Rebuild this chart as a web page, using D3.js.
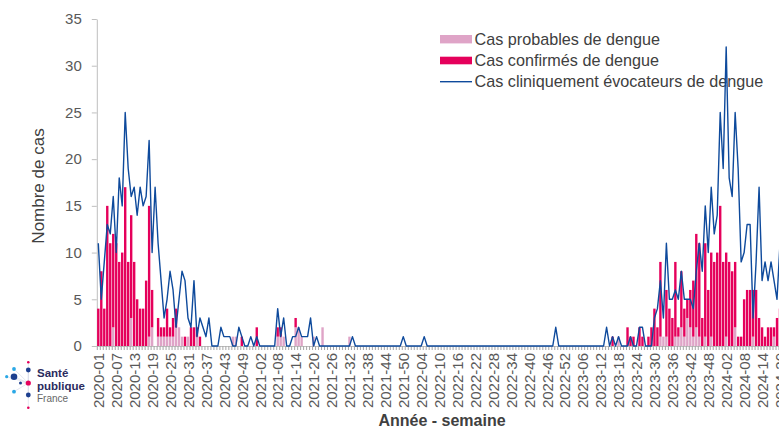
<!DOCTYPE html>
<html>
<head>
<meta charset="utf-8">
<script src="https://cdn.jsdelivr.net/npm/d3@7"></script>
<style>
  body { margin: 0; background: #fff; overflow: hidden; }
  svg { display: block; font-family: "Liberation Sans", Arial, sans-serif; }
</style>
</head>
<body>
<div id="chart"></div>
<script>
// weeks per year shown on the axis (2020 has 53 ISO weeks, 2024 stops at week 20)
const yearWeeks = [[2020, 53], [2021, 52], [2022, 52], [2023, 52], [2024, 20]];
const weeks = yearWeeks.flatMap(([yr, n]) => d3.range(1, n + 1).map(w => `${yr}-${String(w).padStart(2, "0")}`));

const tickLabels = [
  "2020-01", "2020-07", "2020-13", "2020-19", "2020-25", "2020-31", "2020-37", "2020-43", "2020-49",
  "2021-02", "2021-08", "2021-14", "2021-20", "2021-26", "2021-32", "2021-38", "2021-44", "2021-50",
  "2022-04", "2022-10", "2022-16", "2022-22", "2022-28", "2022-34", "2022-40", "2022-46", "2022-52",
  "2023-06", "2023-12", "2023-18", "2023-24", "2023-30", "2023-36", "2023-42", "2023-48",
  "2024-02", "2024-08", "2024-14", "2024-20"
];
const yTicks = [0, 5, 10, 15, 20, 25, 30, 35];

// confirmed cases per week
const confirmed = [
  // 2020
  4, 8, 4, 15, 11, 10, 11, 9, 10, 17,
  9, 11, 9, 5, 4, 4, 7, 14, 4, 0,
  2, 1, 1, 3, 1, 2, 2, 0, 0, 1,
  0, 2, 2, 1, 1, 0, 0, 0, 0, 0,
  0, 0, 0, 0, 0, 0, 0, 0, 1, 0,
  0, 0, 0,
  // 2021
  2, 0, 0, 0, 0, 0, 0, 1, 1, 0,
  0, 0, 0, 1, 0, 0, 0, 0, 0, 0,
  0, 0, 0, 0, 0, 0, 0, 0, 0, 0,
  0, 0, 0, 0, 0, 0, 0, 0, 0, 0,
  0, 0, 0, 0, 0, 0, 0, 0, 0, 0,
  0, 0,
  // 2022
  0, 0, 0, 0, 0, 0, 0, 0, 0, 0,
  0, 0, 0, 0, 0, 0, 0, 0, 0, 0,
  0, 0, 0, 0, 0, 0, 0, 0, 0, 0,
  0, 0, 0, 0, 0, 0, 0, 0, 0, 0,
  0, 0, 0, 0, 0, 0, 0, 0, 0, 0,
  0, 0,
  // 2023
  0, 0, 0, 0, 0, 0, 0, 0, 0, 0,
  0, 0, 0, 0, 0, 1, 0, 0, 0, 0,
  2, 1, 1, 0, 2, 1, 0, 1, 2, 4,
  2, 8, 0, 5, 4, 3, 8, 1, 6, 3,
  2, 4, 6, 10, 10, 3, 10, 6, 9, 9,
  10, 15,
  // 2024
  9, 9, 9, 8, 7, 1, 1, 5, 6, 6,
  5, 6, 3, 2, 1, 2, 2, 1, 3, 4
];

// probable cases per week
const probable = [
  // 2020
  0, 0, 0, 0, 0, 2, 0, 0, 0, 0,
  0, 3, 0, 0, 0, 0, 0, 1, 2, 0,
  1, 1, 1, 1, 1, 1, 2, 2, 1, 0,
  1, 0, 0, 1, 0, 0, 0, 0, 0, 0,
  0, 0, 0, 0, 0, 1, 1, 0, 0, 0,
  0, 0, 0,
  // 2021
  0, 0, 0, 0, 0, 0, 0, 1, 1, 1,
  0, 0, 0, 2, 2, 1, 0, 0, 0, 1,
  0, 0, 2, 0, 0, 0, 0, 0, 0, 0,
  0, 1, 0, 0, 0, 0, 0, 0, 0, 0,
  0, 0, 0, 0, 0, 0, 0, 0, 0, 0,
  0, 0,
  // 2022
  0, 0, 0, 0, 0, 0, 0, 0, 0, 0,
  0, 0, 0, 0, 0, 0, 0, 0, 0, 0,
  0, 0, 0, 0, 0, 0, 0, 0, 0, 0,
  0, 0, 0, 0, 0, 0, 0, 0, 0, 0,
  0, 0, 0, 0, 0, 0, 0, 0, 0, 0,
  0, 0,
  // 2023
  0, 0, 0, 0, 0, 0, 0, 0, 0, 0,
  0, 0, 0, 0, 0, 0, 0, 1, 0, 0,
  0, 0, 0, 0, 0, 0, 0, 0, 0, 0,
  0, 1, 1, 1, 0, 0, 1, 1, 2, 1,
  3, 2, 1, 2, 1, 0, 1, 0, 1, 0,
  0, 0,
  // 2024
  0, 1, 0, 0, 2, 0, 0, 0, 0, 0,
  1, 0, 0, 0, 0, 0, 0, 1, 0, 0
];

// clinically suggestive cases per week
const clinical = [
  // 2020
  11, 5, 9, 13, 12, 16, 10, 18, 15, 25,
  19, 16, 17, 14, 17, 15, 16, 22, 10, 17,
  11, 7, 3, 5, 8, 6, 2, 5, 8, 7,
  3, 2, 7, 1, 3, 2, 1, 3, 0, 0,
  0, 2, 1, 1, 1, 0, 0, 2, 1, 0,
  0, 1, 0,
  // 2021
  1, 0, 0, 0, 0, 0, 0, 4, 1, 3,
  0, 0, 1, 1, 2, 1, 1, 1, 3, 0,
  1, 0, 0, 0, 0, 0, 0, 0, 0, 0,
  0, 0, 1, 0, 0, 0, 0, 0, 0, 0,
  0, 0, 0, 0, 0, 0, 0, 0, 0, 1,
  0, 0,
  // 2022
  0, 0, 0, 0, 1, 0, 0, 0, 0, 0,
  0, 0, 0, 0, 0, 0, 0, 0, 0, 0,
  0, 0, 0, 0, 0, 0, 0, 0, 0, 0,
  0, 0, 0, 0, 0, 0, 0, 0, 0, 0,
  0, 0, 0, 0, 0, 0, 0, 0, 2, 0,
  0, 0,
  // 2023
  0, 0, 0, 0, 0, 0, 0, 0, 0, 0,
  0, 0, 0, 2, 0, 1, 0, 1, 0, 0,
  0, 1, 0, 0, 2, 2, 0, 0, 0, 3,
  4, 7, 3, 11, 5, 5, 6, 5, 8, 5,
  5, 5, 4, 8, 11, 8, 15, 10, 17, 12,
  14, 25,
  // 2024
  19, 32, 18, 16, 25, 19, 9, 10, 13, 13,
  3, 9, 17, 7, 9, 7, 9, 7, 5, 11
];

const legendLabels = [
  "Cas probables de dengue",
  "Cas confirmés de dengue",
  "Cas cliniquement évocateurs de dengue"
];

const colProbable = "#dfa4c7", colConfirmed = "#e5005b", colLine = "#0e4a9c";
const textCol = "#404040", axisCol = "#595959";

const width = 779, height = 428;
const svg = d3.select("#chart").append("svg")
  .attr("width", width)
  .attr("height", height);

const x = d3.scalePoint().domain(weeks).range([96.8, 781.5]).padding(0.5);
const step = x.step();
const barW = step * 0.8;
const y = d3.scaleLinear().domain([0, 35]).range([346, 19]);

// Y axis
const yAxis = svg.append("g")
  .attr("transform", "translate(96.8,0)")
  .call(d3.axisLeft(y).tickValues(yTicks).tickSize(5).tickSizeOuter(0).tickPadding(10));
yAxis.select(".domain").attr("stroke", "#bfbfbf");
yAxis.selectAll(".tick line").attr("stroke", "#bfbfbf");
yAxis.selectAll("text").attr("fill", axisCol).style("font-size", "15px");

svg.append("text")
  .attr("transform", "rotate(-90)")
  .attr("x", -186)
  .attr("y", 44)
  .attr("text-anchor", "middle")
  .attr("fill", textCol)
  .style("font-size", "17px")
  .text("Nombre de cas");

// X axis, one tick per week, label every 6 weeks
const xAxis = svg.append("g")
  .attr("transform", "translate(0,346)")
  .call(d3.axisBottom(x).tickValues(weeks).tickSize(4).tickSizeOuter(0)
    .tickFormat(d => tickLabels.includes(d) ? d : ""));
xAxis.select(".domain").attr("stroke", "#bfbfbf");
xAxis.selectAll(".tick line")
  .attr("stroke", "#a6a6a6")
  .attr("transform", `translate(${-step / 2},0)`);
xAxis.selectAll("text")
  .attr("transform", "rotate(-90)")
  .attr("x", -7)
  .attr("y", 0)
  .attr("dy", "0.35em")
  .style("text-anchor", "end")
  .style("font-size", "15px")
  .attr("fill", axisCol);

svg.append("text")
  .attr("x", 442)
  .attr("y", 426)
  .attr("text-anchor", "middle")
  .attr("fill", textCol)
  .style("font-size", "16px")
  .style("font-weight", "bold")
  .text("Année - semaine");

// Legend (drawn below the series, the line crosses it)
const legend = svg.append("g").attr("transform", "translate(440,0)");
const rowY = [39.2, 60.5, 81.7];
legend.append("rect").attr("x", 0).attr("y", rowY[0] - 4.2).attr("width", 32).attr("height", 8.4).attr("fill", colProbable);
legend.append("rect").attr("x", 0).attr("y", rowY[1] - 3.8).attr("width", 32).attr("height", 7.6).attr("fill", colConfirmed);
legend.append("line").attr("x1", 0).attr("x2", 32).attr("y1", rowY[2]).attr("y2", rowY[2])
  .attr("stroke", colLine).attr("stroke-width", 1.4);
legend.selectAll("text.lab")
  .data(legendLabels)
  .join("text")
  .attr("class", "lab")
  .attr("x", 34.5)
  .attr("y", (d, i) => rowY[i])
  .attr("dy", "0.35em")
  .attr("fill", textCol)
  .style("font-size", "16.2px")
  .text(d => d);

// Stacked bars: probable at the bottom, confirmed on top
const bars = svg.append("g");
bars.selectAll("rect.prob")
  .data(weeks)
  .join("rect")
  .attr("class", "prob")
  .attr("x", d => x(d) - barW / 2)
  .attr("width", barW)
  .attr("y", (d, i) => y(probable[i]))
  .attr("height", (d, i) => y(0) - y(probable[i]))
  .attr("fill", colProbable);

bars.selectAll("rect.conf")
  .data(weeks)
  .join("rect")
  .attr("class", "conf")
  .attr("x", d => x(d) - barW / 2)
  .attr("width", barW)
  .attr("y", (d, i) => y(probable[i] + confirmed[i]))
  .attr("height", (d, i) => y(probable[i]) - y(probable[i] + confirmed[i]))
  .attr("fill", colConfirmed);

// Clinical line
const line = d3.line()
  .x((d, i) => x(weeks[i]))
  .y(d => y(d));

svg.append("path")
  .datum(clinical)
  .attr("d", line)
  .attr("fill", "none")
  .attr("stroke", colLine)
  .attr("stroke-width", 1.4)
  .attr("stroke-linejoin", "round");

// Santé publique France logo
const logo = svg.append("g");
const hub = [28.3, 383];
const dots = [
  [28.3, 362.3, 1.3, "#e5005b"],
  [14, 369, 1.9, "#2aa8e6"],
  [28.3, 370, 2.4, "#1d3f8f"],
  [6.7, 376.7, 1.6, "#2aa8e6"],
  [14, 376.7, 3.3, "#1d3f8f"],
  [20.5, 383, 1.5, "#1d3f8f"],
  [14, 391.7, 1.9, "#2aa8e6"],
  [28.3, 395, 2.4, "#1d3f8f"],
  [28.3, 407.7, 1.3, "#e5005b"]
];
logo.selectAll("line")
  .data(dots)
  .join("line")
  .attr("x1", hub[0]).attr("y1", hub[1])
  .attr("x2", d => d[0]).attr("y2", d => d[1])
  .attr("stroke", "#c9cfe3")
  .attr("stroke-width", 0.5);
logo.selectAll("circle")
  .data(dots)
  .join("circle")
  .attr("cx", d => d[0]).attr("cy", d => d[1]).attr("r", d => d[2])
  .attr("fill", d => d[3]);
logo.append("circle").attr("cx", hub[0]).attr("cy", hub[1]).attr("r", 2.6).attr("fill", "#e5005b");

logo.append("text").attr("x", 37).attr("y", 376.5).attr("fill", "#2b2b5e")
  .style("font-size", "11.5px").style("font-weight", "bold").text("Santé");
logo.append("text").attr("x", 37).attr("y", 389.6).attr("fill", "#2b2b5e")
  .style("font-size", "11.5px").style("font-weight", "bold").text("publique");
logo.append("text").attr("x", 37).attr("y", 401.5).attr("fill", "#666")
  .style("font-size", "10px").text("France");
</script>
</body>
</html>
